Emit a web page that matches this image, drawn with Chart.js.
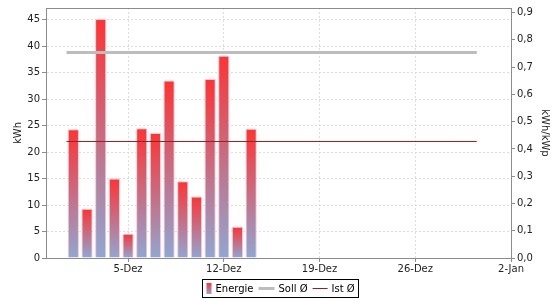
<!DOCTYPE html>
<html>
<head>
<meta charset="utf-8">
<script src="https://cdn.jsdelivr.net/npm/chart.js@4"></script>
<style>
  html, body { margin: 0; padding: 0; background: #fff; }
</style>
</head>
<body>
<canvas id="chart" width="560" height="300"></canvas>
<script>
// days of December
const days = [1, 2, 3, 4, 5, 6, 7, 8, 9, 10, 11, 12, 13, 14];
const energie = [24.3, 9.3, 45.1, 15.0, 4.6, 24.5, 23.6, 33.5, 14.5, 11.6, 33.8, 38.2, 5.9, 24.4];

// average lines (kWh), drawn over the month
const avgDays = [0.5, 30.5];
const sollValue = 38.8;
const istValue = 22.0;

const tickDays = [5, 12, 19, 26, 33];
const tickLabels = ['5-Dez', '12-Dez', '19-Dez', '26-Dez', '2-Jan'];
const kwhTicks = [0, 5, 10, 15, 20, 25, 30, 35, 40, 45];
const kwpTicks = [0, 0.1, 0.2, 0.3, 0.4, 0.5, 0.6, 0.7, 0.8, 0.9];

const RED = '#ff3333';
const BLUE = '#8fa7d3';
const AXIS = '#8c8c8c';

Chart.defaults.font.family = 'DejaVu Sans';
Chart.defaults.font.size = 10;
Chart.defaults.color = '#222';

function barFill(c) {
  const chart = c.chart;
  if (!chart.chartArea || c.type !== 'data') return RED;
  const y = chart.scales.y;
  const top = y.getPixelForValue(c.parsed.y);
  const bottom = y.getPixelForValue(0);
  const g = chart.ctx.createLinearGradient(0, top, 0, bottom);
  g.addColorStop(0, RED);
  g.addColorStop(1, BLUE);
  return g;
}

// top border of plot + boxed legend
const frame = {
  id: 'frame',
  afterDraw(chart) {
    const ctx = chart.ctx;
    const a = chart.chartArea;
    ctx.save();
    ctx.strokeStyle = AXIS;
    ctx.lineWidth = 1;
    ctx.beginPath();
    ctx.moveTo(a.left, Math.round(a.top) + 0.5);
    ctx.lineTo(a.right, Math.round(a.top) + 0.5);
    ctx.stroke();

    // legend
    ctx.font = '10px "DejaVu Sans"';
    ctx.textBaseline = 'middle';
    const items = [
      { label: 'Energie', kind: 'bar', w: 5 },
      { label: 'Soll Ø', kind: 'line', color: '#bdbdbd', lw: 3, w: 16 },
      { label: 'Ist Ø', kind: 'line', color: '#962020', lw: 1, w: 15 }
    ];
    const gapIcon = 4, gapItem = 5, pad = 4;
    let total = pad * 2;
    items.forEach((it, i) => {
      it.tw = ctx.measureText(it.label).width;
      total += it.w + gapIcon + it.tw + (i < items.length - 1 ? gapItem : 0);
    });
    const boxTop = 279.5, boxH = 18;
    let x = Math.round(280 - total / 2) + 0.5;
    ctx.strokeStyle = '#000';
    ctx.strokeRect(x, boxTop, Math.round(total), boxH);
    const cy = boxTop + boxH / 2;
    x += pad;
    items.forEach(it => {
      if (it.kind === 'bar') {
        const g = ctx.createLinearGradient(0, cy - 5.5, 0, cy + 5.5);
        g.addColorStop(0, RED);
        g.addColorStop(1, BLUE);
        ctx.fillStyle = g;
        ctx.fillRect(x, cy - 5.5, it.w, 11);
      } else {
        ctx.strokeStyle = it.color;
        ctx.lineWidth = it.lw;
        ctx.beginPath();
        ctx.moveTo(x, cy);
        ctx.lineTo(x + it.w, cy);
        ctx.stroke();
      }
      x += it.w + gapIcon;
      ctx.fillStyle = '#000';
      ctx.fillText(it.label, x, cy + 0.5);
      x += it.tw + gapItem;
    });
    ctx.restore();
  }
};

new Chart(document.getElementById('chart'), {
  type: 'bar',
  data: {
    datasets: [{
      type: 'line',
      label: 'Ist Ø',
      data: avgDays.map(d => ({ x: d, y: istValue })),
      borderColor: '#962020',
      borderWidth: 1,
      pointRadius: 0,
      yAxisID: 'y',
      order: 0
    }, {
      type: 'line',
      label: 'Soll Ø',
      data: avgDays.map(d => ({ x: d, y: sollValue })),
      borderColor: '#bdbdbd',
      borderWidth: 3,
      pointRadius: 0,
      yAxisID: 'y',
      order: 1
    }, {
      type: 'bar',
      label: 'Energie',
      data: days.map((d, i) => ({ x: d, y: energie[i] })),
      backgroundColor: barFill,
      borderColor: 'rgba(255, 190, 200, 0.9)',
      borderWidth: 1,
      barPercentage: 0.82,
      categoryPercentage: 1,
      yAxisID: 'y',
      order: 2
    }]
  },
  options: {
    responsive: false,
    animation: false,
    devicePixelRatio: 1,
    layout: { padding: { top: 4, bottom: 22, left: 0, right: 0 } },
    scales: {
      x: {
        type: 'linear',
        min: -1,
        max: 33,
        offset: false,
        afterBuildTicks: s => { s.ticks = tickDays.map(v => ({ value: v })); },
        afterFit: s => { s.height = 20; },
        ticks: {
          callback: (v, i) => tickLabels[i],
          maxRotation: 0,
          autoSkip: false,
          padding: 1
        },
        grid: { offset: false, color: '#dddddd', tickColor: AXIS, tickLength: 4, tickBorderDash: [] },
        border: { color: AXIS, dash: [2, 2] }
      },
      y: {
        position: 'left',
        min: 0,
        max: 47.2,
        afterBuildTicks: s => { s.ticks = kwhTicks.map(v => ({ value: v })); },
        afterFit: s => { s.width = 46; },
        ticks: { padding: 2 },
        title: { display: true, text: 'kWh', padding: { top: 12, bottom: 0 } },
        grid: { color: '#dddddd', tickColor: AXIS, tickLength: 4, tickBorderDash: [] },
        border: { color: AXIS, dash: [2, 2] }
      },
      y1: {
        position: 'right',
        min: 0,
        max: 0.917,
        afterBuildTicks: s => { s.ticks = kwpTicks.map(v => ({ value: v })); },
        afterFit: s => { s.width = 49; },
        ticks: {
          padding: 2,
          callback: v => v.toFixed(1).replace('.', ',')
        },
        title: { display: true, text: 'kWh/kWp', padding: { top: 9, bottom: 0 } },
        grid: { drawOnChartArea: false, tickColor: AXIS, tickLength: 4 },
        border: { color: AXIS }
      }
    },
    plugins: {
      legend: { display: false },
      tooltip: { enabled: false }
    }
  },
  plugins: [frame]
});
</script>
</body>
</html>
